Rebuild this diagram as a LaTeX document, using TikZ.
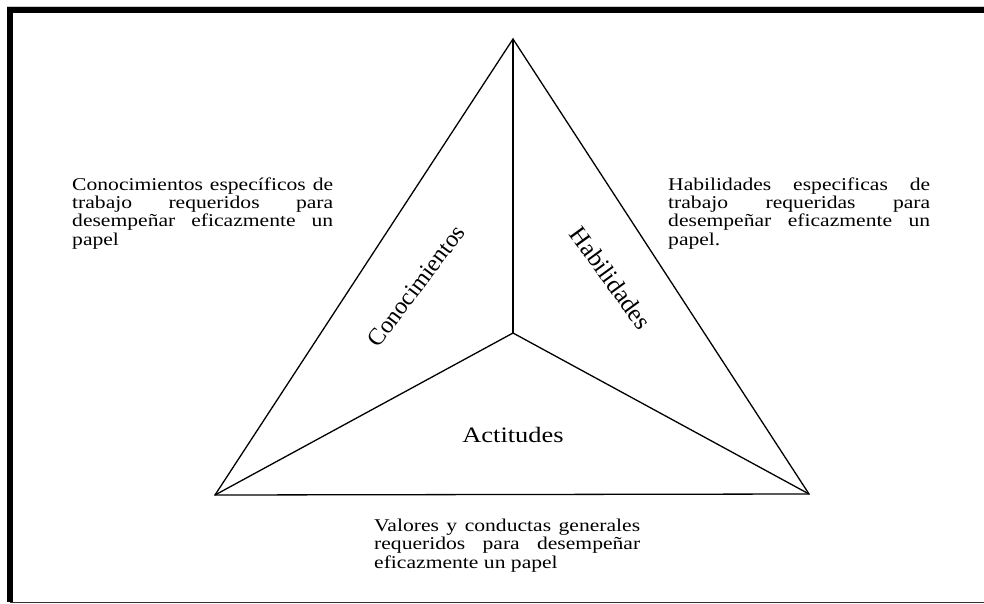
\documentclass[tikz,border=0pt]{standalone}
\usepackage{fontspec}
\setmainfont{Liberation Serif}
\newfontfamily\pfont[FakeStretch=1.2]{Liberation Serif}
\newfontfamily\lfont[FakeStretch=1.2]{Liberation Serif}
\begin{document}
\begin{tikzpicture}[x=1pt,y=-1pt,
  edge/.style={line width=1.3pt, line join=miter},
  axis/.style={line width=1.8pt},
  para/.style={anchor=base west, inner sep=0pt, align=left,
     font={\pfont\fontsize{18}{18.3}\selectfont}},
  lbl/.style={inner sep=0pt, font={\fontsize{24}{24}\selectfont}}]
\useasboundingbox (0,0) rectangle (984,604);
% frame
\draw[gray!40, line width=0.8pt] (7,6.3) -- (984,6.3);
\fill[black] (7,7) rectangle (984,13);
\fill[black] (7,7) rectangle (13,602);
\draw[black!80, line width=1pt] (10,602.5) -- (984,602.5);
% triangle
\coordinate (A) at (513,39);
\coordinate (O) at (513,333);
\coordinate (BL) at (215,495);
\coordinate (BR) at (809,494);
\draw[edge] (A) -- (BL) -- (BR) -- cycle;
\draw[axis] (A) -- (O);
\draw[edge] (BL) -- (O) -- (BR);
% labels
\node[lbl, rotate=53] (con) at (416,286) {Conocimientos};
\node[lbl, rotate=-54, font={\fontsize{25}{25}\selectfont}] (hab) at (611,278) {Habilidades};
\node[lbl, font={\lfont\fontsize{22}{22}\selectfont}] (act) at (513,435) {Actitudes};
% descriptions (base = baseline of last line)
\node[para] (tcon) at (72,245) {%
\makebox[261pt][s]{Conocimientos específicos de}\\
\makebox[261pt][s]{trabajo requeridos para}\\
\makebox[261pt][s]{desempeñar eficazmente un}\\
papel};
\node[para] (thab) at (668,245) {%
\makebox[262pt][s]{Habilidades especificas de}\\
\makebox[262pt][s]{trabajo requeridas para}\\
\makebox[262pt][s]{desempeñar eficazmente un}\\
papel.};
\node[para] (tact) at (374,568) {%
\makebox[266pt][s]{Valores y conductas generales}\\
\makebox[266pt][s]{requeridos para desempeñar}\\
eficazmente un papel};
\end{tikzpicture}
\end{document}
